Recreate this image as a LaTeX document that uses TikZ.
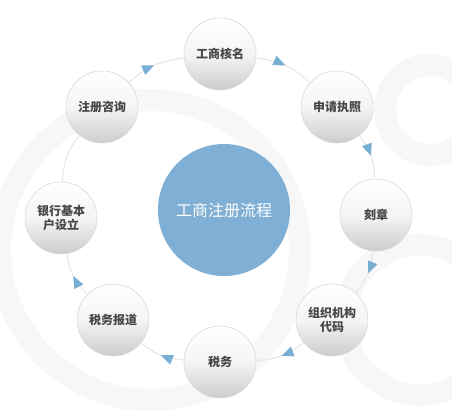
\documentclass[tikz,border=0pt]{standalone}
\usepackage{fontspec}
\setmainfont{Noto Sans CJK SC}
\usetikzlibrary{arrows.meta,decorations.markings,shadows}
\definecolor{hub}{HTML}{7FAFD4}
\definecolor{tip}{HTML}{78AED4}
\definecolor{ring}{HTML}{E4E4E4}
\definecolor{bgear}{HTML}{F7F7F7}
\tikzset{
  stepnode/.style={circle,minimum size=72pt,inner sep=0pt,draw=gray!30,line width=0.6pt,
    top color=white,bottom color=gray!40,middle color=gray!8,
    font=\fontsize{12}{14}\selectfont\bfseries,text=black!72,align=center},
  hubnode/.style={circle,minimum size=132pt,fill=hub,text=white,font=\fontsize{16}{18}\selectfont},
  flow/.style={draw=ring,line width=0.9pt,postaction={decorate},
    decoration={markings,mark=at position 0.5 with {\arrow[tip]{Triangle[length=12pt,width=10pt]}}}},
  plain/.style={draw=ring,line width=0.9pt},
  gearbg/.style={draw=bgear,line width=22pt}
}
\begin{document}
\begin{tikzpicture}[x=1pt,y=-1pt]
\useasboundingbox (0,0) rectangle (452,414);
\fill[white] (0,0) rectangle (452,414);
% faint background gears
\draw[gearbg] (150,250) circle (150);
\draw[gearbg] (430,110) circle (45);
\draw[gearbg] (420,320) circle (75);
% nodes
\node[hubnode] (hub) at (224,210) {工商注册流程};
\node[stepnode] (n1) at (220,54) {工商核名};
\node[stepnode] (n2) at (337,107) {申请执照};
\node[stepnode] (n3) at (376,215) {刻章};
\node[stepnode] (n4) at (332,320) {组织机构\\代码};
\node[stepnode] (n5) at (220,362) {税务};
\node[stepnode] (n6) at (113,320) {税务报道};
\node[stepnode] (n7) at (61,218) {银行基本\\户设立};
\node[stepnode] (n8) at (102,107) {注册咨询};
% connectors
\path[flow] (n8) to[bend left=18] (n1);
\path[flow] (n1) to[bend left=18] (n2);
\path[flow] (n2) to[bend left=18] (n3);
\path[flow] (n3) to[bend left=18] (n4);
\path[flow] (n4) to[bend left=18] (n5);
\path[flow] (n5) to[bend left=18] (n6);
\path[flow] (n6) to[bend left=18] (n7);
\path[plain] (n7) to[bend left=18] (n8);
\end{tikzpicture}
\end{document}
